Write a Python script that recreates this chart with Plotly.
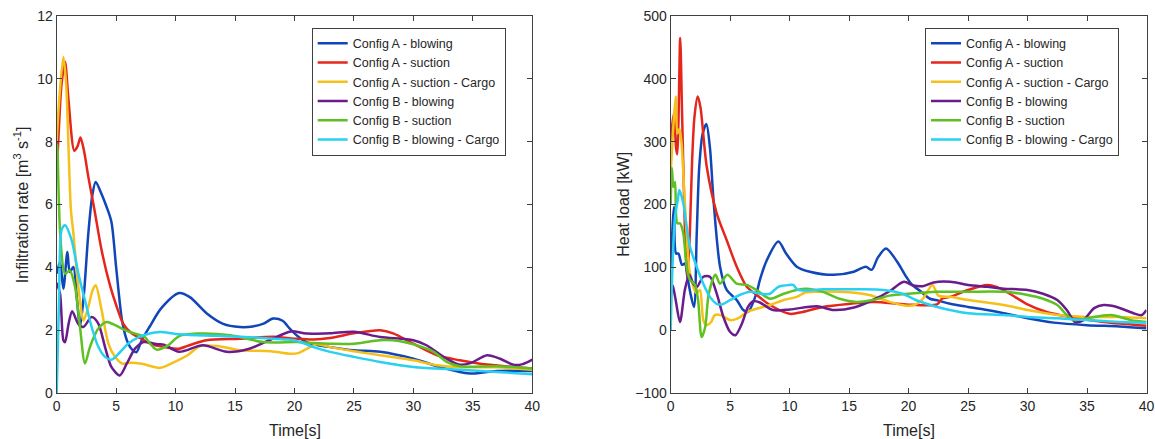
import plotly.graph_objects as go

# ---------------- Data ----------------
series_names = ["Config A - blowing", "Config A - suction", "Config A - suction - Cargo",
                "Config B - blowing", "Config B - suction", "Config B - blowing - Cargo"]
series_colors = ["#1046B8", "#E5261C", "#F5C01A", "#6A1C8C", "#5EC022", "#28D0F2"]

x_ticks = [0, 5, 10, 15, 20, 25, 30, 35, 40]

# Left chart: infiltration rate [m3 s-1]
inf_t_a_blow = [0, 0.28, 0.56, 0.9, 1.1, 1.4, 1.7, 1.96, 2.3, 2.66, 3.0, 3.28, 3.7, 4.2, 4.6, 5.0, 5.5, 5.9, 6.2,
                6.7, 7.15, 7.8, 8.8, 10.3, 11.2, 12.6, 14, 15.4, 16.5, 17.4, 18.2, 19.0, 19.6, 20.3, 21.0, 21.6,
                23, 25, 27.2, 30, 32.2, 33.9, 35, 37, 40]
inf_v_a_blow = [3.8, 4.17, 3.32, 4.49, 3.85, 4.01, 3.0, 2.1, 3.2, 5.08, 6.3, 6.72, 6.4, 5.92, 5.45, 4.0, 2.3, 1.68, 1.45,
                1.3, 1.68, 2.1, 2.7, 3.18, 3.05, 2.54, 2.2, 2.1, 2.12, 2.21, 2.37, 2.3, 2.05, 1.8, 1.62, 1.55,
                1.46, 1.36, 1.31, 1.09, 0.83, 0.67, 0.62, 0.70, 0.70]

inf_t_a_suc = [0, 0.15, 0.4, 0.7, 1.0, 1.48, 1.75, 2.0, 2.3, 2.66, 3.17, 3.8, 4.5, 5.0, 5.6, 6.3, 7.0, 8.0, 9.0, 10.3,
               11.0, 12.6, 15.4, 18.2, 20, 21.6, 23, 25, 27.2, 28.3, 30, 32, 33.9, 35.6, 38.4, 40]
inf_v_a_suc = [7.0, 8.15, 9.8, 10.54, 9.3, 7.71, 7.85, 8.13, 7.7, 6.88, 5.84, 4.5, 3.4, 2.8, 2.2, 1.9, 1.75, 1.55, 1.47,
               1.41, 1.5, 1.68, 1.73, 1.79, 1.73, 1.7, 1.75, 1.9, 2.0, 1.9, 1.57, 1.2, 1.04, 0.93, 0.83, 0.78]

inf_t_a_cargo = [0, 0.15, 0.56, 0.8, 0.98, 1.2, 1.4, 1.7, 1.96, 2.24, 2.66, 3.0, 3.28, 3.78, 4.35, 4.9, 5.5, 6.2, 7.15,
                 8.7, 9.7, 11.0, 12.05, 13.5, 15.4, 18.0, 19.6, 20.3, 21.0, 21.9, 23, 25, 27.2, 30, 32, 33.9, 37, 40]
inf_v_a_cargo = [8.0, 9.0, 10.7, 9.8, 7.95, 5.8, 5.1, 3.8, 2.95, 2.3, 2.74, 3.25, 3.43, 2.63, 1.57, 1.15, 0.94, 0.96,
                 0.93, 0.80, 0.95, 1.2, 1.49, 1.5, 1.36, 1.33, 1.25, 1.27, 1.4, 1.55, 1.46, 1.33, 1.2, 1.04, 0.88,
                 0.82, 0.82, 0.74]

inf_t_b_blow = [0, 0.28, 0.56, 0.7, 1.0, 1.3, 1.8, 2.24, 2.94, 3.5, 4.06, 4.6, 5.3, 5.9, 6.6, 7.3, 8.5, 9.0, 10.3,
                12.3, 14.3, 16.2, 17.9, 19.7, 21, 23, 25, 27.2, 30, 31.1, 32.8, 33.9, 34.8, 36.2, 37.3, 38.4, 39.2, 40]
inf_v_b_blow = [3.5, 3.17, 1.68, 1.62, 2.2, 2.6, 2.21, 2.1, 2.42, 2.21, 1.47, 0.83, 0.56, 0.94, 1.42, 1.62, 1.55,
                1.54, 1.31, 1.52, 1.31, 1.41, 1.68, 1.96, 1.89, 1.9, 1.95, 1.78, 1.68, 1.52, 1.09, 0.9, 0.95, 1.2,
                1.09, 0.9, 0.92, 1.06]

inf_t_b_suc = [0, 0.05, 0.3, 0.7, 1.1, 1.54, 1.96, 2.38, 2.8, 3.5, 4.2, 4.9, 5.74, 6.6, 7.4, 7.8, 8.4, 9.3, 10.3,
               11.8, 14.6, 17.4, 20.2, 21.6, 23, 25, 27.2, 28.9, 30, 31.7, 32.8, 33.9, 37, 40]
inf_v_b_suc = [7.0, 7.9, 5.0, 3.8, 3.9, 3.38, 2.1, 0.94, 1.47, 2.05, 2.26, 2.16, 2.0, 1.89, 1.78, 1.6, 1.38, 1.5,
               1.81, 1.89, 1.84, 1.62, 1.62, 1.59, 1.57, 1.57, 1.68, 1.65, 1.55, 1.31, 0.99, 0.85, 0.85, 0.78]

inf_t_b_cargo = [0, 0.2, 0.42, 0.7, 1.26, 1.82, 2.38, 2.94, 3.5, 4.06, 4.6, 5.2, 6.0, 6.9, 7.6, 8.7, 10, 11.8, 15.4,
                 18.2, 19.5, 20, 21, 21.6, 23, 25, 27.2, 30, 33.9, 37, 40]
inf_v_b_cargo = [0, 3.0, 5.2, 5.34, 4.86, 3.8, 2.95, 2.1, 1.47, 1.15, 1.06, 1.25, 1.57, 1.78, 1.87, 1.94, 1.88,
                 1.84, 1.79, 1.73, 1.7, 1.68, 1.55, 1.46, 1.31, 1.15, 0.99, 0.83, 0.74, 0.67, 0.6]

# Right chart: heat load [kW]
hl_t_a_blow = [0, 0.28, 0.45, 0.65, 0.95, 1.2, 1.4, 1.7, 1.96, 2.19, 2.4, 2.69, 3.0, 3.3, 3.6, 4.15, 4.71, 5.55,
               6.1, 6.5, 7.2, 7.5, 8.07, 9.05, 9.7, 10.6, 11.7, 13.7, 15.4, 16.4, 16.9, 17.4, 18.1, 19.0, 19.8,
               20.3, 21.0, 21.8, 22.5, 23.5, 25, 26.6, 28, 30, 32.2, 35, 37.7, 40]
hl_v_a_blow = [100, 196, 122, 122, 104, 106, 85, 55, 37, 154, 260, 313, 328, 290, 207, 101, 64, 48,
               32, 29, 58, 80, 111, 141, 122, 101, 93, 88, 93, 101, 96, 115, 130, 110, 85,
               72, 62, 50, 47, 42, 37, 32, 27, 19, 12, 8, 6, 3]

hl_t_a_suc = [0, 0.15, 0.28, 0.45, 0.55, 0.65, 0.8, 0.95, 1.1, 1.25, 1.4, 1.6, 1.8, 2.0, 2.27, 2.5, 3.03, 3.87,
              4.71, 5.55, 6.4, 7.23, 8.35, 10.0, 11.1, 12.8, 15.1, 17.1, 19.8, 22.4, 22.8, 23.5, 25, 26.6, 27.4,
              28.5, 29.9, 31.6, 33.6, 36.4, 40]
hl_v_a_suc = [300, 330, 345, 290, 280, 330, 465, 350, 230, 130, 85, 150, 270, 340, 372, 355, 260, 186,
              143, 101, 69, 56, 40, 26, 29, 37, 42, 45, 41, 41, 50, 53, 64, 72, 69,
              58, 42, 29, 21, 13, 7]

hl_t_a_cargo = [0, 0.22, 0.42, 0.56, 0.73, 0.9, 1.06, 1.34, 1.62, 2.18, 2.46, 2.74, 3.0, 3.4, 3.7, 4.2, 5.0, 5.7,
                6.4, 7.2, 8.35, 9.5, 10.6, 11.3, 12, 14.2, 16.7, 18.4, 19.8, 20.5, 21.2, 22.0, 22.5, 23.5, 25,
                28, 30, 32.5, 35, 37.7, 40]
hl_v_a_cargo = [250, 324, 372, 313, 320, 300, 250, 154, 90, 59, 64, 16, 8, 13, 24, 24, 16, 19,
                29, 34, 40, 48, 53, 60, 61, 61, 56, 45, 39, 40, 50, 72, 55, 53, 48,
                40, 32, 24, 21, 21, 19]

hl_t_b_blow = [0, 0.19, 0.4, 0.78, 1.2, 1.57, 1.9, 2.2, 2.74, 3.3, 3.87, 4.43, 5.0, 5.43, 6.0, 6.5, 6.95, 7.5, 8.6,
               10, 12.3, 13.7, 15.4, 17.0, 18.4, 19.6, 20.4, 21.2, 22.1, 23.5, 25, 26.6, 28, 30, 31.3, 32.5,
               33.3, 34, 34.7, 35.6, 36.4, 37.5, 38.9, 39.6, 40]
hl_v_b_blow = [75, 69, 50, 13, 65, 88, 74, 69, 85, 85, 58, 21, -3, -8, 11, 37, 46, 44, 32,
               33, 38, 32, 36, 48, 62, 77, 71, 70, 76, 77, 72, 69, 66, 64, 58, 48,
               32, 13, 16, 35, 40, 37, 27, 24, 32]

hl_t_b_suc = [0, 0.1, 0.22, 0.36, 0.56, 0.78, 1.06, 1.34, 1.62, 2.04, 2.3, 2.6, 2.9, 3.2, 3.76, 4.15, 4.76, 5.55,
              6.4, 7.2, 8.35, 9.5, 10.6, 11.4, 12.8, 14.2, 15.6, 17.0, 18.4, 20, 22.4, 25, 28, 30, 31.3, 32.5,
              33.3, 33.9, 35, 37, 38.7, 40]
hl_v_b_suc = [200, 258, 228, 236, 170, 170, 154, 101, 80, 72, 48, -11, 5, 58, 88, 74, 88, 74,
              72, 64, 50, 58, 64, 66, 61, 50, 45, 48, 55, 58, 61, 61, 61, 56, 50, 40,
              24, 16, 19, 24, 16, 13]

hl_t_b_cargo = [0, 0.15, 0.36, 0.6, 0.73, 1.06, 1.34, 1.62, 2.18, 2.74, 3.3, 3.87, 4.3, 5.0, 5.8, 6.7, 7.5, 8.35,
                9.05, 10.0, 10.3, 10.7, 12.8, 15.6, 17.9, 19.5, 20.6, 22.4, 25, 28, 30, 32.5, 35, 37.7, 40]
hl_v_b_cargo = [0, 101, 180, 208, 223, 202, 165, 133, 101, 74, 53, 42, 41, 48, 56, 61, 58, 58,
                69, 72, 72, 64, 65, 65, 64, 58, 48, 37, 27, 24, 21, 19, 16, 13, 12]

left_data = [(inf_t_a_blow, inf_v_a_blow), (inf_t_a_suc, inf_v_a_suc), (inf_t_a_cargo, inf_v_a_cargo),
             (inf_t_b_blow, inf_v_b_blow), (inf_t_b_suc, inf_v_b_suc), (inf_t_b_cargo, inf_v_b_cargo)]
right_data = [(hl_t_a_blow, hl_v_a_blow), (hl_t_a_suc, hl_v_a_suc), (hl_t_a_cargo, hl_v_a_cargo),
              (hl_t_b_blow, hl_v_b_blow), (hl_t_b_suc, hl_v_b_suc), (hl_t_b_cargo, hl_v_b_cargo)]

# ---------------- Figure ----------------
FONT = "Liberation Sans, Arial, Helvetica, sans-serif"
AX = "#404040"
TXT = "#262626"

fig = go.Figure()
for i, (t, v) in enumerate(left_data):
    fig.add_trace(go.Scatter(x=t, y=v, mode="lines", name=series_names[i],
                             line=dict(color=series_colors[i], width=2.5, shape="spline", smoothing=0.8),
                             xaxis="x", yaxis="y", legend="legend"))
for i, (t, v) in enumerate(right_data):
    fig.add_trace(go.Scatter(x=t, y=v, mode="lines", name=series_names[i],
                             line=dict(color=series_colors[i], width=2.5, shape="spline", smoothing=0.8),
                             xaxis="x2", yaxis="y2", legend="legend2"))

axis_common = dict(showline=True, linecolor=AX, linewidth=1, mirror="ticks", ticks="inside", ticklen=5,
                   tickcolor=AX, tickwidth=1, showgrid=False, zeroline=False, automargin=False,
                   tickfont=dict(family=FONT, size=14, color=TXT))

legend_common = dict(xanchor="left", yanchor="top", bgcolor="white", bordercolor=AX, borderwidth=1,
                     font=dict(family=FONT, size=12.5, color=TXT), tracegroupgap=0)

y_dom = [1 - 393.0 / 439, 1 - 16.0 / 439]
fig.update_layout(
    width=1155, height=439,
    margin=dict(l=0, r=0, t=0, b=0),
    paper_bgcolor="white", plot_bgcolor="white",
    font=dict(family=FONT, color=TXT),
    xaxis=dict(domain=[56.7 / 1155, 532.3 / 1155], range=[0, 40], tickvals=x_ticks, anchor="y", **axis_common),
    yaxis=dict(domain=y_dom, range=[0, 12], dtick=2, tick0=0, anchor="x", **axis_common),
    xaxis2=dict(domain=[670.7 / 1155, 1146.5 / 1155], range=[0, 40], tickvals=x_ticks, anchor="y2", **axis_common),
    yaxis2=dict(domain=y_dom, range=[-100, 500], dtick=100, tick0=0, anchor="x2", **axis_common),
    legend=dict(x=311.7 / 1155, y=1 - 27.7 / 439, **legend_common),
    legend2=dict(x=925.0 / 1155, y=1 - 27.7 / 439, **legend_common),
    annotations=[
        dict(text="Time[s]", xref="paper", yref="paper", x=294.5 / 1155, y=1 - 430 / 439,
             xanchor="center", yanchor="middle", showarrow=False, font=dict(family=FONT, size=16, color=TXT)),
        dict(text="Time[s]", xref="paper", yref="paper", x=908.6 / 1155, y=1 - 430 / 439,
             xanchor="center", yanchor="middle", showarrow=False, font=dict(family=FONT, size=16, color=TXT)),
        dict(text="Infiltration rate [m<sup>3</sup> s<sup>-1</sup>]", xref="paper", yref="paper",
             x=21.7 / 1155, y=1 - 204.5 / 439, xanchor="center", yanchor="middle", textangle=-90,
             showarrow=False, font=dict(family=FONT, size=16, color=TXT)),
        dict(text="Heat load [kW]", xref="paper", yref="paper",
             x=623.3 / 1155, y=1 - 204.5 / 439, xanchor="center", yanchor="middle", textangle=-90,
             showarrow=False, font=dict(family=FONT, size=16, color=TXT)),
    ],
)

fig.write_html("out.html", config={"displayModeBar": False},
               post_script="document.body.style.margin='0';document.body.style.overflow='hidden';")
